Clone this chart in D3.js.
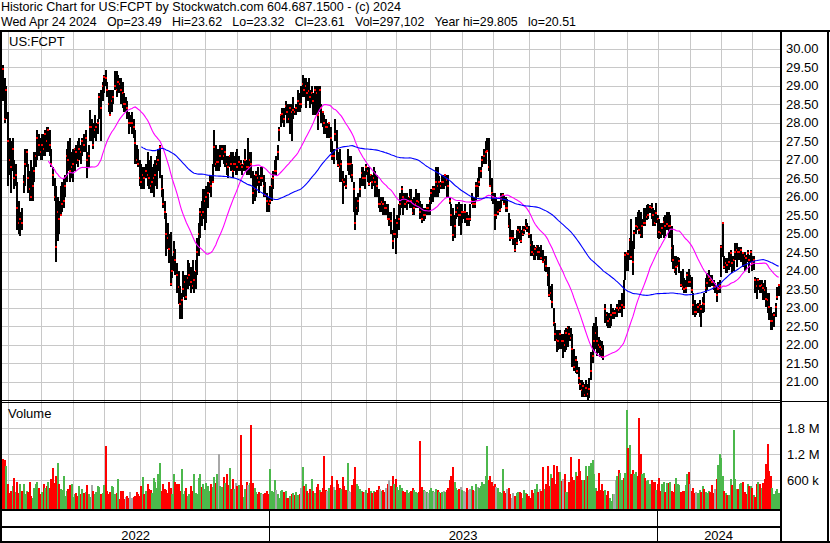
<!DOCTYPE html>
<html>
<head>
<meta charset="utf-8">
<script src="https://cdn.jsdelivr.net/npm/d3@7"></script>
<style>
  body { margin: 0; background: #fff; }
  svg text { font-family: "Liberation Sans", Arial, sans-serif; font-size: 13px; fill: #000; }
</style>
</head>
<body>
<div id="chart"></div>
<script>
// trading calendar
var firstDay = '2022-04-27', lastDay = '2024-04-24';
var holidays = ['2022-05-30','2022-06-20','2022-07-04','2022-09-05','2022-11-24','2022-12-26',
  '2023-01-02','2023-01-16','2023-02-20','2023-04-07','2023-05-29','2023-06-19','2023-07-04',
  '2023-09-04','2023-11-23','2023-12-25','2024-01-01','2024-01-15','2024-02-19','2024-03-29'];

// close of the session before the first bar (sets the first volume colour)
var priorClose = 29.6;

// daily closes
var closes = [
  29.45,28.1,28.9,27.5,27.0,26.8,27.3,26.5,26.6,25.7,
  25.3,25.4,25.29,26.4,26.9,27.2,26.5,26.2,26.0,26.3,
  26.7,27.1,27.6,27.4,27.2,27.4,27.3,27.7,27.5,27.8,
  27.4,26.9,26.6,26.0,24.65,25.6,25.4,25.5,25.8,25.9,
  26.3,27.1,27.0,26.7,26.8,26.9,27.3,27.2,27.0,27.3,
  27.2,27.5,27.4,27.6,27.0,27.1,27.9,27.9,27.4,27.8,
  27.9,28.0,28.7,28.4,29.0,29.25,29.2,28.9,28.5,28.2,
  28.6,28.7,29.0,28.9,29.1,29.05,28.9,28.8,28.5,28.5,
  28.4,28.0,28.0,28.0,27.9,27.45,27.0,26.9,26.5,26.4,
  26.6,26.5,26.7,26.6,26.5,26.3,26.4,26.5,26.6,26.9,
  27.0,27.35,26.2,25.8,25.6,25.0,24.9,24.6,23.65,24.0,
  24.5,24.3,23.9,23.55,23.1,23.2,23.5,23.7,23.3,23.8,
  23.9,23.7,23.6,23.75,24.0,24.5,25.0,25.6,25.5,25.6,
  25.9,26.0,26.1,26.4,26.3,26.4,27.35,26.9,26.95,26.95,
  27.1,27.3,27.1,27.2,26.9,26.8,27.1,26.9,26.7,26.9,
  26.9,26.8,26.95,26.9,26.8,26.9,27.0,26.8,26.8,27.0,
  26.9,26.1,26.2,26.6,26.5,26.4,26.5,26.5,26.3,26.05,
  25.9,25.8,25.9,26.3,26.5,26.7,26.7,27.2,27.8,28.2,
  28.25,28.1,28.45,28.3,28.1,28.4,28.3,28.35,28.3,28.4,
  28.6,28.5,28.5,29.05,28.9,29.0,28.8,28.85,28.7,28.8,
  28.6,28.9,28.8,28.2,28.9,28.4,28.3,28.0,27.9,27.9,
  28.0,27.6,27.1,27.1,27.7,27.3,26.85,26.8,26.9,26.45,
  26.4,26.3,26.9,26.9,26.9,26.6,26.2,25.3,25.7,25.9,
  26.2,26.65,26.5,26.5,26.8,26.7,26.35,26.6,26.4,26.5,
  26.4,26.3,25.8,25.8,25.85,25.8,25.7,25.7,25.4,25.4,
  25.35,24.8,25.0,24.99,25.3,25.4,25.8,26.2,26.0,25.8,
  25.85,25.9,26.0,25.9,25.55,25.7,25.8,25.9,25.87,25.6,
  25.4,25.5,25.5,25.7,25.7,25.9,26.1,26.2,26.2,26.4,
  26.3,26.4,26.3,26.4,26.4,26.6,26.45,26.3,25.9,25.5,
  24.97,25.2,25.6,25.7,25.5,25.5,25.6,25.6,25.6,25.4,
  25.4,25.4,25.9,25.8,25.8,26.3,26.3,26.4,26.7,27.0,
  27.1,27.2,27.25,26.8,26.3,26.1,26.0,25.5,25.5,25.6,
  25.65,25.95,26.05,25.8,25.7,25.7,25.2,24.9,24.9,24.9,
  24.55,24.75,25.1,25.05,24.8,25.0,25.1,25.2,25.15,25.0,
  24.7,24.5,24.45,24.6,24.65,24.5,24.5,24.34,24.25,24.3,
  24.14,23.9,23.35,23.4,23.17,22.6,22.3,22.13,22.1,22.3,
  22.1,22.1,22.0,22.31,22.45,22.3,22.18,21.9,21.41,21.6,
  21.3,21.09,20.95,20.78,20.9,20.64,20.82,20.67,20.8,21.29,
  21.7,22.1,22.33,22.09,22.0,21.95,21.9,21.68,22.98,22.8,
  22.63,22.7,22.8,22.85,22.85,22.85,23.0,22.95,23.0,23.07,
  23.01,24.43,24.47,24.45,24.83,24.38,24.25,25.01,25.2,25.19,
  25.1,24.97,25.2,25.3,25.28,25.46,25.5,25.72,25.7,25.5,
  25.28,25.57,25.4,25.06,25.03,25.15,25.33,25.2,25.26,25.2,
  25.21,24.61,24.3,24.02,24.1,24.13,24.27,23.62,23.57,23.5,
  23.53,23.88,23.7,23.7,23.48,23.08,22.9,22.9,23.03,23.07,
  22.98,23.12,23.1,23.53,23.66,23.84,23.75,23.7,23.57,23.57,
  23.35,23.5,23.6,24.65,25.3,24.11,24.2,24.16,24.25,24.47,
  24.2,24.3,24.52,24.56,24.5,24.52,24.56,24.47,24.4,24.34,
  24.47,24.3,24.5,24.2,24.3,23.75,23.6,23.75,23.6,23.62,
  23.53,23.48,23.25,23.2,23.03,22.63,22.65,22.8,23.03,23.3,
  23.61
];

// daily highs
var highs = [
  29.55,29.2,29.0,28.3,27.6,27.5,27.6,27.0,26.9,26.4,
  25.9,25.6,25.7,26.6,27.3,27.3,26.9,26.7,27.0,26.8,
  27.2,27.2,27.8,27.7,27.6,27.7,27.7,27.8,27.9,27.9,
  27.8,27.3,26.8,26.5,26.3,26.0,25.9,26.3,26.4,26.5,
  26.6,27.3,27.5,27.6,27.2,27.3,27.3,27.4,27.5,27.6,
  27.4,27.6,27.7,27.8,27.2,27.4,28.35,28.1,28.0,28.2,
  28.0,28.1,28.8,28.9,29.1,29.3,29.43,29.1,28.9,28.9,
  28.9,28.9,29.4,29.4,29.3,29.2,29.2,29.1,28.8,28.7,
  28.6,28.3,28.2,28.3,28.1,27.8,27.4,27.3,27.0,26.9,
  26.8,26.8,26.9,27.2,27.0,27.1,26.8,26.9,27.0,27.1,
  27.3,27.4,26.6,26.2,25.9,25.55,25.3,25.0,25.06,24.4,
  24.8,24.6,24.2,24.0,23.6,23.4,24.0,23.9,23.9,24.3,
  24.2,24.1,24.3,24.0,24.3,24.9,25.3,25.7,25.9,26.2,
  26.2,26.3,26.4,26.6,26.6,26.9,27.8,27.4,27.3,27.3,
  27.4,27.4,27.4,27.4,27.1,27.1,27.1,27.2,27.2,27.1,
  27.2,27.3,27.1,27.0,26.9,27.0,27.3,27.0,27.6,27.2,
  27.2,26.7,26.6,26.7,26.8,26.6,26.8,26.8,26.6,26.4,
  26.1,26.0,26.3,26.5,26.7,27.0,27.1,27.4,27.9,28.2,
  28.4,28.4,28.6,28.5,28.5,28.5,28.5,28.7,28.4,28.5,
  28.9,28.8,29.0,29.3,29.2,29.2,29.1,29.2,28.9,29.0,
  28.8,29.0,29.0,29.0,29.0,28.5,28.3,28.2,28.1,28.0,
  28.0,27.9,27.5,27.3,28.1,27.8,27.2,27.3,27.0,26.7,
  26.5,26.6,27.3,27.1,27.1,26.9,26.4,26.0,26.0,26.1,
  26.5,26.8,26.8,26.7,26.9,26.8,26.8,26.6,26.6,26.8,
  26.7,26.6,26.2,26.0,26.0,26.0,25.9,25.8,25.8,25.6,
  25.6,25.1,25.7,25.4,25.5,25.8,26.1,26.3,26.1,26.1,
  26.1,26.0,26.2,26.2,25.95,26.0,26.2,26.1,26.1,25.9,
  25.8,25.7,25.7,25.8,25.8,26.0,26.2,26.3,26.3,26.8,
  26.8,26.55,26.4,26.6,26.6,26.6,26.6,26.6,26.0,25.8,
  25.7,25.5,25.8,25.8,25.85,25.8,25.8,25.6,25.8,25.6,
  25.5,25.8,26.1,26.0,26.0,26.4,26.5,26.8,26.8,27.1,
  27.3,27.5,27.6,27.6,27.0,26.5,26.1,26.1,26.0,25.9,
  25.9,26.1,26.1,26.05,26.0,25.95,25.55,25.4,25.1,25.1,
  24.9,25.1,25.2,25.2,25.1,25.2,25.2,25.4,25.3,25.2,
  25.0,24.8,24.7,24.65,24.7,24.7,24.65,24.7,24.55,24.4,
  24.4,24.1,24.1,23.6,23.65,23.0,22.6,22.4,22.4,22.4,
  22.3,22.3,22.4,22.45,22.5,22.5,22.45,22.3,21.9,21.7,
  21.55,21.4,21.05,21.05,21.0,20.95,21.05,20.95,21.1,21.8,
  22.5,22.6,22.76,22.5,22.2,22.13,22.1,22.0,23.1,22.9,
  22.85,22.85,23.1,23.0,22.95,23.0,23.1,23.2,23.2,23.4,
  23.75,24.5,24.5,24.55,24.9,25.4,24.8,25.1,25.46,25.6,
  25.65,25.6,25.4,25.7,25.7,25.78,25.8,25.78,25.82,25.7,
  25.65,25.82,25.5,25.4,25.28,25.28,25.46,25.5,25.6,25.6,
  25.5,25.2,24.7,24.4,24.4,24.38,24.34,24.0,24.06,23.8,
  23.75,23.98,24.06,23.9,23.84,23.39,23.2,23.1,23.12,23.2,
  23.07,23.3,23.4,23.8,23.93,24.02,23.88,23.9,23.75,23.66,
  23.57,23.7,23.75,24.7,25.33,24.4,24.34,24.34,24.52,24.56,
  24.4,24.4,24.74,24.74,24.65,24.65,24.65,24.5,24.5,24.43,
  24.56,24.43,24.56,24.4,24.4,23.84,23.8,23.8,23.75,23.75,
  23.66,23.75,23.55,23.4,23.39,23.03,22.85,22.9,23.12,23.57,
  23.62
];

// daily lows
var lows = [
  28.6,28.0,28.1,26.3,26.6,26.1,26.7,26.2,26.3,25.1,
  25.0,24.95,25.1,26.1,26.3,26.8,26.1,25.9,25.9,25.9,
  26.4,26.8,27.0,27.1,27.0,27.0,27.1,27.1,27.2,27.2,
  27.1,26.8,26.3,25.9,24.25,24.8,25.0,25.5,25.6,25.7,
  26.0,26.4,26.7,26.4,26.5,26.4,26.7,26.9,26.8,27.0,
  26.9,27.1,27.2,27.2,26.5,26.8,27.5,27.5,27.3,27.6,
  27.5,27.7,28.1,27.5,28.6,28.8,29.0,28.7,28.3,28.2,
  28.3,28.5,28.9,28.7,28.8,28.8,28.5,28.4,28.3,28.3,
  28.1,27.7,27.9,27.7,27.6,26.9,26.9,26.8,26.3,26.2,
  26.2,26.2,26.5,26.3,26.2,26.1,26.1,26.0,26.3,26.2,
  26.7,26.5,26.0,25.7,25.4,24.4,24.6,24.2,23.6,23.8,
  24.0,23.9,23.4,23.1,22.7,22.7,23.3,23.2,23.2,23.5,
  23.6,23.4,23.5,23.4,23.5,23.9,24.4,24.9,25.2,25.4,
  25.1,25.3,25.7,26.1,26.0,26.4,26.8,26.7,26.7,26.7,
  26.8,27.0,26.9,26.8,26.6,26.5,26.8,26.7,26.5,26.7,
  26.6,26.6,26.7,26.7,26.6,26.7,26.7,26.6,26.6,26.6,
  26.5,25.8,25.9,26.0,26.3,26.1,26.3,26.4,26.0,26.0,
  25.6,25.6,25.8,25.9,26.2,26.6,26.6,27.0,27.5,27.9,
  28.0,27.9,28.2,28.0,28.0,27.7,27.5,28.1,28.2,28.2,
  28.3,28.3,28.4,28.7,28.7,28.4,28.6,28.6,28.4,28.5,
  28.2,28.2,28.2,27.8,28.3,28.0,27.9,27.7,27.7,27.6,
  27.6,27.2,27.0,26.9,27.5,27.0,26.8,26.4,26.4,25.8,
  26.3,26.2,26.7,26.6,26.5,26.4,25.6,25.1,25.5,25.6,
  26.0,26.3,26.3,26.2,26.6,26.4,26.3,26.4,26.2,26.3,
  26.0,26.0,25.7,25.6,25.6,25.5,25.5,25.5,25.4,25.2,
  25.0,24.6,24.9,24.45,24.9,25.1,25.5,25.7,25.5,25.7,
  25.65,25.8,25.7,25.7,25.5,25.5,25.7,25.7,25.7,25.4,
  25.3,25.35,25.4,25.5,25.5,25.5,25.8,25.85,26.0,26.0,
  26.0,26.1,26.2,26.2,26.2,26.3,26.0,26.0,25.8,25.2,
  24.8,24.9,25.4,25.45,25.2,24.97,25.3,25.4,25.3,25.2,
  25.2,25.35,25.8,25.7,25.7,25.9,26.0,26.3,26.5,26.8,
  26.9,26.9,27.2,26.7,26.3,25.9,25.8,25.1,25.4,25.5,
  25.6,25.7,25.9,25.8,25.6,25.6,25.15,24.8,24.85,24.7,
  24.5,24.7,24.85,24.8,24.75,24.95,25.0,25.1,25.05,24.9,
  24.4,24.4,24.3,24.3,24.4,24.3,24.3,24.3,24.2,24.0,
  23.98,23.6,23.3,23.2,23.0,22.5,22.1,21.8,21.85,21.9,
  21.9,21.65,21.8,21.85,21.95,22.1,22.1,21.4,21.3,21.25,
  21.2,20.95,20.78,20.6,20.6,20.6,20.6,20.51,20.55,21.05,
  21.5,21.8,21.9,21.7,21.77,21.68,21.65,21.6,22.6,22.5,
  22.45,22.45,22.5,22.7,22.7,22.75,22.75,22.85,22.85,22.76,
  22.98,23.75,24.0,24.0,24.3,24.3,23.9,24.6,25.0,25.1,
  25.0,24.9,24.9,25.2,25.2,25.38,25.4,25.55,25.4,25.2,
  25.2,25.3,24.9,24.85,24.9,24.97,24.9,24.95,25.1,24.9,
  24.9,24.25,24.05,23.93,23.9,24.1,23.93,23.57,23.48,23.4,
  23.39,23.57,23.57,23.57,23.39,22.8,22.76,22.8,22.85,22.76,
  22.49,22.85,22.9,23.39,23.48,23.57,23.57,23.6,23.48,23.4,
  23.16,23.4,23.4,23.84,24.38,24.06,23.93,23.93,24.02,24.1,
  23.93,24.0,24.29,24.11,24.29,24.29,24.25,24.11,24.0,24.02,
  24.25,23.93,24.25,24.0,24.02,23.39,23.25,23.48,23.39,23.39,
  23.21,23.21,23.03,22.85,22.67,22.4,22.4,22.49,22.76,23.21,
  23.32
];

// daily volume, thousands of shares
var volumes = [
  1085,1062,931,524,302,355,471,663,339,570,
  317,508,355,508,292,355,339,570,239,201,
  416,508,570,431,292,339,508,420,480,570,
  431,620,877,547,700,1008,508,393,370,700,
  239,355,393,485,508,216,277,317,231,470,
  277,393,317,339,493,292,216,493,355,292,
  339,462,447,292,317,493,1393,355,292,339,
  462,447,292,317,623,162,355,355,162,216,
  239,201,339,201,216,239,339,277,239,462,
  677,292,355,508,393,370,317,663,570,431,
  739,1008,355,508,393,370,317,570,431,277,
  739,570,508,508,355,854,277,355,431,239,
  277,470,355,739,317,292,663,739,447,508,
  393,547,470,355,508,447,677,547,739,1200,
  470,447,677,547,739,493,877,393,631,393,
  547,470,493,1646,493,216,393,570,493,547,
  1877,547,416,331,277,324,308,292,277,308,
  355,292,854,355,339,600,370,277,201,355,
  370,339,355,201,201,239,277,300,260,330,
  250,280,420,900,460,520,350,300,400,620,
  350,300,450,520,380,330,420,1150,380,360,
  420,500,700,450,380,600,520,430,400,680,
  460,380,1000,360,330,500,640,900,520,480,
  400,360,340,320,380,300,420,350,300,360,
  330,380,480,400,350,380,330,420,520,600,
  480,700,520,640,450,380,500,420,360,340,
  380,300,320,350,420,380,330,300,340,1500,
  450,380,360,330,300,380,420,350,320,400,
  380,330,300,340,360,320,380,420,600,700,
  900,560,420,380,400,450,380,350,330,420,
  380,400,460,380,360,520,450,420,480,560,
  520,700,1400,600,700,560,480,520,450,420,
  339,317,854,355,308,393,416,277,185,302,
  239,317,339,339,317,201,370,317,292,239,
  201,370,300,393,508,330,400,360,908,393,
  508,931,471,739,650,954,520,931,800,800,
  585,623,739,339,339,560,1139,677,600,800,
  700,1085,816,600,600,616,931,700,931,1008,
  1062,739,431,355,777,370,524,355,370,262,
  355,185,123,277,277,600,700,831,777,600,
  650,777,2224,1339,1408,739,831,739,800,700,
  2031,1216,739,777,662,585,600,524,600,570,
  570,370,508,662,355,524,570,339,546,546,
  570,355,339,508,662,508,493,339,355,355,
  493,754,785,524,355,431,317,339,317,370,
  339,470,400,339,317,355,339,500,317,400,
  623,954,1216,1123,700,355,317,262,262,623,
  500,1754,623,393,393,508,546,570,339,277,
  508,471,471,431,262,216,508,570,508,431,
  546,623,969,1431,816,700,416,292,350,400,
  297
];

var priceTicks = [21, 21.5, 22, 22.5, 23, 23.5, 24, 24.5, 25, 25.5, 26, 26.5, 27, 27.5, 28, 28.5, 29, 29.5, 30];
var volumeTicks = [600000, 1200000, 1800000];
var volumeTickLabels = ['600 k', '1.2 M', '1.8 M'];
var fastPeriod = 30, slowPeriod = 90;
var symbol = 'US:FCPT';
var titleLine1 = 'Historic Chart for US:FCPT by Stockwatch.com 604.687.1500 - (c) 2024';
var titleLine2 = 'Wed Apr 24 2024   Op=23.49   Hi=23.62   Lo=23.32   Cl=23.61   Vol=297,102   Year hi=29.805   lo=20.51';

var parseDay = d3.timeParse('%Y-%m-%d'), fmtDay = d3.timeFormat('%Y-%m-%d');
var days = d3.timeDay.range(parseDay(firstDay), d3.timeDay.offset(parseDay(lastDay), 1))
  .filter(function (d) { return d.getDay() !== 0 && d.getDay() !== 6 && holidays.indexOf(fmtDay(d)) < 0; });

var n = Math.min(days.length, closes.length, highs.length, lows.length, volumes.length);
if (n !== 501) console.error('length mismatch', days.length, closes.length, highs.length, lows.length, volumes.length);

var bars = d3.range(n).map(function (i) {
  var prev = i === 0 ? priorClose : closes[i - 1];
  return { i: i, date: days[i], close: closes[i],
    high: Math.max(highs[i], closes[i]), low: Math.min(lows[i], closes[i]),
    volume: volumes[i] * 1000,
    dir: Math.sign(closes[i] - prev) };
});

function sma(period) {
  return bars.map(function (d, i) {
    return i < period - 1 ? null : d3.mean(closes.slice(i - period + 1, i + 1));
  });
}

var W = 830, H = 543;
var plotLeft = 2, plotRight = 780.3;
var svg = d3.select('#chart').append('svg').attr('width', W).attr('height', H);

var x = d3.scaleLinear().domain([0, 500]).range([3.35, 778.65]);
var y = d3.scaleLinear().domain([20.5, 30.5]).range([400.3, 30.3]);
var yv = d3.scaleLinear().domain([0, 600000]).range([506.3, 480.3]);

var grid = svg.append('g').attr('stroke', '#c8c8c8').attr('stroke-width', 1).attr('shape-rendering', 'crispEdges');

// horizontal price grid
grid.selectAll('.hp').data(priceTicks).enter().append('line')
  .attr('x1', plotLeft).attr('x2', plotRight)
  .attr('y1', function (d) { return Math.round(y(d)) + 0.5; })
  .attr('y2', function (d) { return Math.round(y(d)) + 0.5; });

// horizontal volume grid
grid.selectAll('.hv').data(volumeTicks).enter().append('line')
  .attr('x1', plotLeft).attr('x2', plotRight)
  .attr('y1', function (d) { return Math.round(yv(d)) + 0.5; })
  .attr('y2', function (d) { return Math.round(yv(d)) + 0.5; });

// monthly vertical grid
var monthStarts = bars.filter(function (d, i) { return i > 0 && d.date.getMonth() !== bars[i - 1].date.getMonth(); });
grid.selectAll('.vm').data(monthStarts).enter().append('line')
  .attr('x1', function (d) { return Math.round(x(d.i)) + 0.5; })
  .attr('x2', function (d) { return Math.round(x(d.i)) + 0.5; })
  .attr('y1', 31).attr('y2', 509);

// volume bars
var volColor = function (d) { return d.dir > 0 ? '#4cb84c' : d.dir < 0 ? '#ff0000' : '#a8a8a8'; };
svg.append('g').attr('shape-rendering', 'crispEdges')
  .selectAll('rect').data(bars).enter().append('rect')
  .attr('x', function (d) { return Math.round(x(d.i)) - 1; })
  .attr('width', 2)
  .attr('y', function (d) { return Math.round(yv(d.volume)); })
  .attr('height', function (d) { return Math.max(0, 509 - Math.round(yv(d.volume))); })
  .attr('fill', volColor);

// high-low bars with close mark, drawn bar by bar
var hl = svg.append('g').attr('shape-rendering', 'crispEdges')
  .selectAll('g').data(bars).enter().append('g');
hl.append('rect')
  .attr('x', function (d) { return Math.round(x(d.i)) - 1; })
  .attr('width', 2)
  .attr('y', function (d) { return Math.round(y(d.high)); })
  .attr('height', function (d) { return Math.max(1, Math.round(y(d.low)) - Math.round(y(d.high))); })
  .attr('fill', '#000');
hl.append('rect')
  .attr('x', function (d) { return Math.round(x(d.i)) - 1; })
  .attr('width', 2)
  .attr('y', function (d) { return Math.round(y(d.close)) - 1; })
  .attr('height', 2)
  .attr('fill', '#ff0000');

// moving averages
var maLine = d3.line()
  .defined(function (d) { return d != null; })
  .x(function (d, i) { return x(i); })
  .y(function (d) { return y(d); });

svg.append('path').datum(sma(fastPeriod))
  .attr('fill', 'none').attr('stroke', '#ff00ff').attr('stroke-width', 1.1)
  .attr('d', maLine);
svg.append('path').datum(sma(slowPeriod))
  .attr('fill', 'none').attr('stroke', '#0000ff').attr('stroke-width', 1.1)
  .attr('d', maLine);

// frame
var frame = svg.append('g').attr('stroke', '#000').attr('shape-rendering', 'crispEdges');
function seg(x1, y1, x2, y2, w) {
  frame.append('line').attr('x1', x1).attr('y1', y1).attr('x2', x2).attr('y2', y2).attr('stroke-width', w);
}
seg(0, 30.5, 830, 30.5, 2);
seg(1, 30, 1, 543, 2);
seg(781.3, 30, 781.3, 543, 2);
seg(828, 30, 828, 543, 2);
seg(0, 400.5, 781, 400.5, 1);
seg(0, 402.5, 781, 402.5, 1);
seg(781, 401.5, 828, 401.5, 1);
seg(0, 510, 781, 510, 2);
seg(0, 527.2, 781, 527.2, 2);
seg(0, 541.8, 830, 541.8, 2);

// year separators and labels
var yearStarts = bars.filter(function (d, i) { return i > 0 && d.date.getFullYear() !== bars[i - 1].date.getFullYear(); });
var yearEdges = [plotLeft].concat(yearStarts.map(function (d) { return x(d.i - 0.5); })).concat([plotRight]);
yearStarts.forEach(function (d) {
  var xx = Math.round(x(d.i - 0.5)) + 0.5;
  seg(xx, 510, xx, 542, 1.5);
});
var years = d3.range(yearEdges.length - 1).map(function (k) {
  return { label: String(bars[0].date.getFullYear() + k), mid: (yearEdges[k] + yearEdges[k + 1]) / 2 };
});
svg.selectAll('.yr').data(years).enter().append('text')
  .attr('x', function (d) { return d.mid; })
  .attr('y', 539.5)
  .attr('text-anchor', 'middle')
  .text(function (d) { return d.label; });

// right axis labels
svg.selectAll('.pl').data(priceTicks).enter().append('text')
  .attr('x', 786).attr('y', function (d) { return y(d) + 4.5; })
  .text(function (d) { return d.toFixed(2); });
svg.selectAll('.vl').data(volumeTicks).enter().append('text')
  .attr('x', 787).attr('y', function (d) { return yv(d) + 4.5; })
  .text(function (d, i) { return volumeTickLabels[i]; });

// titles
svg.append('text').attr('x', 1).attr('y', 10.5).attr('xml:space', 'preserve')
  .attr('textLength', 400).attr('lengthAdjust', 'spacingAndGlyphs').text(titleLine1);
svg.append('text').attr('x', 1).attr('y', 25.5).attr('xml:space', 'preserve')
  .attr('textLength', 575).attr('lengthAdjust', 'spacingAndGlyphs').text(titleLine2);
svg.append('text').attr('x', 9).attr('y', 46).text(symbol);
svg.append('text').attr('x', 8).attr('y', 417.5).text('Volume');
</script>
</body>
</html>
